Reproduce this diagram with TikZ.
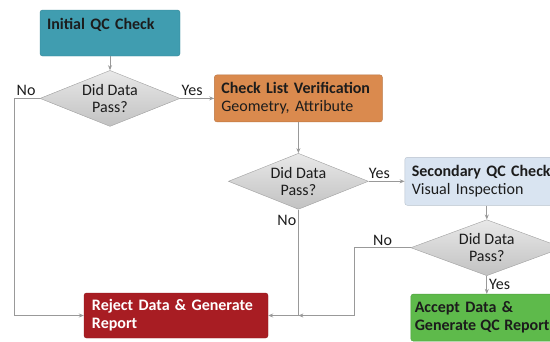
\documentclass[tikz,border=0pt]{standalone}
\usepackage{fontspec}
\setmainfont{Carlito}
\usetikzlibrary{arrows.meta, positioning, shapes.geometric}

\definecolor{blaagroen}{HTML}{409DB0}
\definecolor{oransje}{HTML}{DA8A4E}
\definecolor{lysblaa}{HTML}{D9E4F1}
\definecolor{moerkrod}{HTML}{A81D23}
\definecolor{groenn}{HTML}{5EBA4B}
\definecolor{tekst}{HTML}{1C1C1C}

\begin{document}
\begin{tikzpicture}[
    x=1pt, y=1pt,
    node distance = 14pt and 34pt,
    boks/.style = {rectangle, rounded corners=2.5pt, draw=#1!85!black, fill=#1,
                   align=left, inner xsep=7pt, inner ysep=3pt, text=tekst},
    rute/.style = {diamond, aspect=2.5, draw=gray!75, top color=gray!18, bottom color=gray!48,
                   minimum width=140pt, minimum height=56pt, inner sep=0pt,
                   align=center, text=tekst, font=\fontsize{16}{17}\selectfont},
    pil/.style = {draw=gray!80, line width=0.8pt, -{Stealth[length=5pt, width=4pt]}},
    merke/.style = {text=tekst, inner sep=2pt},
    font=\fontsize{16}{18}\selectfont
    ]

  \useasboundingbox (0,0) rectangle (550,-341);
  \clip (0,0) rectangle (550,-341);

  \node[boks=blaagroen, text width=126pt, minimum height=46pt] (init) at (110,-33)
       {\textbf{Initial QC Check}\\ \mbox{}} ;
  \node[rute] (pass1) [below=of init] {Did Data\\Pass?} ;
  \node[boks=oransje, text width=154pt, minimum height=47pt] (liste) [right=of pass1]
       {\textbf{Check List Verification}\\Geometry, Attribute} ;
  \node[rute] (pass2) [below=31pt of liste] {Did Data\\Pass?} ;
  \node[boks=lysblaa, text width=150pt, minimum height=48pt] (sekund) [right=36pt of pass2]
       {\textbf{Secondary QC Check}\\Visual Inspection} ;
  \node[rute, minimum width=152pt] (pass3) [below=of sekund] {Did Data\\Pass?} ;
  \node[boks=groenn, text width=144pt, inner xsep=4pt, minimum height=47pt] (godta) [below=18pt of pass3]
       {\textbf{Accept Data \&}\\\textbf{Generate\kern-1pt\ QC\kern-1pt\ Report}} ;
  \node[boks=moerkrod, text width=168pt, inner xsep=8pt, minimum height=45pt, text=white] (avvis) at (176,-315.5)
       {\textbf{Reject Data \& Generate}\\\textbf{Report}} ;

  \coordinate (samle) at (pass2.south |- avvis.east) ;

  \draw[pil] (init) -- (pass1) ;
  \draw[pil] (pass1.east) -- node[merke, pos=0.35, above] {Yes} (liste.west) ;
  \draw[pil] (pass1.west) -- node[merke, pos=0.55, above] {No} ++(-25,0) |- (avvis.west) ;

  \draw[pil] (liste) -- (pass2) ;
  \draw[pil] (pass2.east) -- node[merke, pos=0.3, above] {Yes} (sekund.west) ;
  \draw[pil] (pass2.south) |- (avvis.east) ;
  \node[merke, below left=4pt and 0pt of pass2.south] {No} ;

  \draw[pil] (sekund) -- (pass3) ;
  \draw[pil] (pass3.west) -- node[merke, above] {No} ++(-56,0) |- (samle) ;
  \draw[pil] (pass3) -- node[merke, right] {Yes} (godta) ;

\end{tikzpicture}
\end{document}
